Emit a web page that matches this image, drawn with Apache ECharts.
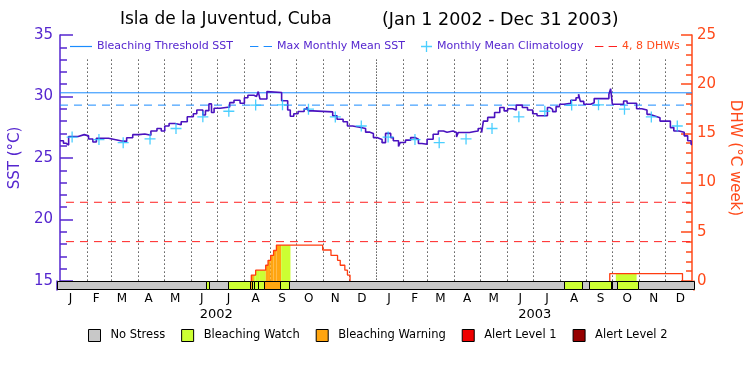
<!DOCTYPE html>
<html><head><meta charset="utf-8">
<script src="https://cdn.jsdelivr.net/npm/echarts@6/dist/echarts.min.js"></script>
<style>html,body{margin:0;padding:0;background:#fff}#c{width:750px;height:375px}</style>
</head><body><div id="c"></div>
<script>
const titleMain = 'Isla de la Juventud, Cuba';
const titleRange = '(Jan 1 2002 - Dec 31 2003)';
const monthLetters = ['J','F','M','A','M','J','J','A','S','O','N','D'];
const years = [2002, 2003];
const yearLabels = ['2002', '2003'];

// SST: day offset from Jan 1 2002, value in °C
const sstDays = [0,4,7,10,21,28,33,38,42,49,56,63,70,77,84,91,98,105,112,117,121,126,133,140,147,154,158,165,168,172,175,178,185,196,201,208,213,217,224,227,229,231,239,241,256,263,266,270,275,282,285,287,292,315,320,327,332,338,346,353,358,362,366,372,376,382,385,391,393,399,405,410,414,418,424,431,437,443,447,454,458,460,473,479,483,487,489,494,502,508,513,517,523,527,534,540,546,551,563,566,569,573,577,582,590,596,599,601,605,613,617,634,636,638,651,655,666,672,678,681,687,693,705,709,715,721,725,729,730];
const sstVals = [26.4,26.2,26.05,26.75,26.9,26.8,26.55,26.3,26.6,26.6,26.5,26.4,26.35,26.65,26.9,26.95,26.85,27.2,27.4,27.2,27.6,27.8,27.7,27.95,28.35,28.6,28.9,28.5,28.85,29.4,28.7,29.05,29.15,29.5,29.7,29.45,29.9,30.1,30.0,29.86,30.4,29.8,30.4,30.32,29.65,28.9,28.4,28.6,28.78,28.97,29.15,28.83,28.75,28.43,28.15,27.95,27.6,27.5,27.4,27.1,27.0,26.66,26.5,26.25,27.0,26.66,26.4,25.93,26.26,26.45,26.66,26.53,26.18,26.12,26.53,26.93,27.2,27.1,27.2,27.07,26.7,27.07,27.15,27.2,27.4,27.07,28.0,28.3,28.7,29.1,28.83,29.0,28.9,29.3,29.1,28.9,28.6,28.43,29.1,28.95,28.77,29.18,29.37,29.45,29.7,29.9,30.18,29.6,29.37,29.5,29.83,30.18,30.64,29.37,29.64,29.45,29.0,28.9,28.55,28.42,28.28,28.0,27.47,27.2,27.1,26.8,26.4,26.1,26.1];
// monthly mean climatology (Jan..Dec)
const climVals = [26.7,26.5,26.25,26.55,27.4,28.35,28.8,29.3,29.32,28.97,28.34,27.6];
const thresholdSST = 30.3;
const mmmSST = 29.3;
const dhwRefLevels = [4, 8];
// DHW steps (value held from day until next day)
const dhwDays = [0,221,226,237.6,240.3,243.3,246.7,250,303.4,313,320.6,323.7,329,332,335,635,719,730];
const dhwVals = [0,0.6,1.1,1.6,2.1,2.6,3.1,3.65,3.15,2.6,2.1,1.6,1.1,0.6,0,0.75,0,0];
// stress level segments
const stressStart = [0,170.8,174.5,196.4,221.2,224,226.3,230.9,237.6,255.5,266.2,581.4,602,610,635,636.5,642,666];
const stressEnd   = [170.8,174.5,196.4,221.2,224,226.3,230.9,237.6,255.5,266.2,581.4,602,610,635,636.5,642,666,730];
const stressLevel = [0,1,0,1,2,1,1,1,2,1,0,1,0,1,0,0,1,0];
const stressNames = ['No Stress','Bleaching Watch','Bleaching Warning','Alert Level 1','Alert Level 2'];
const stressColors = ['#c8c8c8','#ccff33','#ffa510','#ee0000','#960000'];

const FONT = 'DejaVu Sans';
const PURPLE = '#5526cf';
const SSTLINE = '#4a12bf';
const ORANGE = '#ff4a1a';
const BLUE = '#1a8cff';
const CYAN = '#1ec3ff';
const DHWRED = '#ff2020';
const PLUS = 'path://M4.85,0H6.15V4.85H11V6.15H6.15V11H4.85V6.15H0V4.85H4.85Z';
const DASHICON = 'path://M0,0H8V1H0Z M13,0H21V1H13Z';

const t0 = Date.UTC(2002,0,1);
const dayOf = (y,m,d) => (Date.UTC(y,m,d) - t0) / 86400000;
const monthStarts = [];
years.forEach(y => { for (let m=0;m<12;m++) monthStarts.push(dayOf(y,m,1)); });
const totalDays = dayOf(2004,0,1);
const monthMids = monthStarts.map((s,i) => (s + (i+1<monthStarts.length ? monthStarts[i+1] : totalDays)) / 2);
const yearMids = years.map(y => (dayOf(y,0,1) + dayOf(y+1,0,1)) / 2);

const sstData = sstDays.map((d,i) => [d, sstVals[i]]);
const climData = [];
years.forEach(y => climVals.forEach((v,m) => climData.push([dayOf(y,m,15), v])));

// split DHW into separate runs (events with DHW > 0)
const dhwRuns = [];
let run = null;
for (let i=0;i<dhwDays.length;i++){
  const v = dhwVals[i], pv = i>0 ? dhwVals[i-1] : 0;
  if (v>0 && pv===0) { run = [[dhwDays[i], 0]]; dhwRuns.push(run); }
  if (run && (v>0 || pv>0)) run.push([dhwDays[i], v]);
  if (v===0) run = null;
}
const fillPieces = [];
for (let s=0;s<stressStart.length;s++){
  if (stressLevel[s]===0) continue;
  for (let i=0;i<dhwDays.length-1;i++){
    const a = Math.max(stressStart[s], dhwDays[i]), b = Math.min(stressEnd[s], dhwDays[i+1]);
    if (b>a && dhwVals[i]>0) fillPieces.push([a, b, dhwVals[i], stressLevel[s]]);
  }
}

const crisp = v => Math.round(v) + 0.5;

const series = [];
series.push({
  type:'custom', name:'grid', xAxisIndex:0, yAxisIndex:0, silent:true, z:1,
  data: monthStarts.slice(1).map(d => [d]),
  renderItem: (params, api) => {
    const d = api.value(0);
    const p1 = api.coord([d, 33]), p2 = api.coord([d, 15]);
    const isYear = Math.abs(d - 365) < 0.01;
    return {type:'line', shape:{x1:crisp(p1[0]), y1:p1[1], x2:crisp(p1[0]), y2:p2[1]},
      style:{stroke:'#000', lineWidth:1, lineDash: isYear ? [1,2] : [1,3]}};
  }
});
series.push({
  type:'custom', name:'dhwfill', xAxisIndex:0, yAxisIndex:1, silent:true, z:2,
  data: fillPieces,
  renderItem: (params, api) => {
    const p0 = api.coord([api.value(0), api.value(2)]), p1 = api.coord([api.value(1), 0]);
    return {type:'rect', shape:{x:p0[0], y:p0[1], width:p1[0]-p0[0], height:p1[1]-p0[1]},
      style:{fill: stressColors[api.value(3)]}};
  }
});
series.push({type:'line', name:'Bleaching Threshold SST', xAxisIndex:0, yAxisIndex:0, symbol:'none', z:3,
  data:[[0, thresholdSST],[totalDays, thresholdSST]], lineStyle:{color:BLUE, width:1}, itemStyle:{color:BLUE}});
series.push({type:'line', name:'Max Monthly Mean SST', xAxisIndex:0, yAxisIndex:0, symbol:'none', z:3,
  data:[[0, mmmSST],[totalDays, mmmSST]], lineStyle:{color:BLUE, width:1, type:[8,6]}, itemStyle:{color:BLUE}});
dhwRefLevels.forEach(l => series.push({type:'line', name:'4, 8 DHWs', xAxisIndex:0, yAxisIndex:1, symbol:'none', z:3,
  data:[[0,l],[totalDays,l]], lineStyle:{color:DHWRED, width:1, type:[8,6], dashOffset:-6}, itemStyle:{color:DHWRED}}));
series.push({type:'line', name:'SST', xAxisIndex:0, yAxisIndex:0, symbol:'none', step:'end', z:5,
  data:sstData, lineStyle:{color:SSTLINE, width:1.6}});
series.push({type:'scatter', name:'Monthly Mean Climatology', xAxisIndex:0, yAxisIndex:0, z:6,
  symbol:PLUS, symbolSize:11, data:climData, itemStyle:{color:CYAN}});
dhwRuns.forEach(r => series.push({type:'line', name:'DHW', xAxisIndex:0, yAxisIndex:1, symbol:'none', step:'end', z:4,
  data:r, lineStyle:{color:'#ff3c10', width:1.3}}));
stressNames.forEach((nm, lvl) => {
  const segs = [];
  stressStart.forEach((s,i) => { if (stressLevel[i]===lvl) segs.push([s, stressEnd[i]]); });
  series.push({
    type:'custom', name:nm, xAxisIndex:1, yAxisIndex:2, z: lvl===0 ? 7 : 8,
    itemStyle:{color:stressColors[lvl]}, data:segs,
    renderItem: (params, api) => {
      const p0 = api.coord([api.value(0), 1]), p1 = api.coord([api.value(1), 0]);
      const x0 = crisp(p0[0]), x1 = crisp(p1[0]), y0 = crisp(p0[1]), y1 = crisp(p1[1]) - 1;
      return {type:'rect', shape:{x:x0, y:y0, width:x1-x0, height:y1-y0},
        style:{fill:stressColors[lvl], stroke:'#000', lineWidth:1}};
    }
  });
});
series.push({
  type:'custom', name:'months', xAxisIndex:1, yAxisIndex:2, silent:true,
  data: monthMids.map((d,i) => [d, i]),
  renderItem: (params, api) => {
    const p = api.coord([api.value(0), 0]);
    return {type:'text', x:p[0], y:p[1]+9, style:{text: monthLetters[api.value(1)%12], fill:'#000',
      fontSize:12, fontFamily:FONT, align:'center', verticalAlign:'middle'}};
  }
});
series.push({
  type:'custom', name:'years', xAxisIndex:1, yAxisIndex:2, silent:true,
  data: yearMids.map((d,i) => [d, i]),
  renderItem: (params, api) => {
    const p = api.coord([api.value(0), 0]);
    return {type:'text', x:p[0], y:p[1]+25, style:{text: yearLabels[api.value(1)], fill:'#000',
      fontSize:13, fontFamily:FONT, align:'center', verticalAlign:'middle'}};
  }
});

const topLegend = (name, left, icon, w, h, color, textColor) => ({
  left:left, top:41, padding:0, itemWidth:w, itemHeight:h, icon:icon,
  itemStyle:{color:color},
  textStyle:{fontSize:11, color:textColor, fontFamily:FONT},
  data:[name]
});

const option = {
  animation:false,
  backgroundColor:'#fff',
  textStyle:{fontFamily:FONT},
  title:[
    {text:titleMain, left:120, top:11, padding:0, textStyle:{fontSize:17, fontWeight:'normal', color:'#000', fontFamily:FONT}},
    {text:titleRange, left:382, top:11, padding:0, textStyle:{fontSize:17.5, fontWeight:'normal', color:'#000', fontFamily:FONT}}
  ],
  legend:[
    topLegend('Bleaching Threshold SST', 70, 'rect', 22, 1.2, BLUE, PURPLE),
    topLegend('Max Monthly Mean SST', 250, DASHICON, 22, 1.2, BLUE, PURPLE),
    topLegend('Monthly Mean Climatology', 421, PLUS, 11, 11, CYAN, PURPLE),
    topLegend('4, 8 DHWs', 595, DASHICON, 22, 1.2, DHWRED, ORANGE),
    {left:88, top:329, padding:0, itemWidth:12, itemHeight:12, itemGap:16, icon:'rect',
     itemStyle:{borderColor:'#000', borderWidth:1},
     textStyle:{fontSize:11.5, color:'#000', fontFamily:FONT, padding:[0,0,0,5]},
     data: stressNames}
  ],
  grid:[
    {left:57, top:35, width:637, height:246},
    {left:57, top:281, width:637, height:9}
  ],
  xAxis:[
    {type:'value', gridIndex:0, min:0, max:totalDays, position:'top',
     axisLine:{show:true, lineStyle:{color:'#000', width:1}}, axisTick:{show:false}, axisLabel:{show:false}, splitLine:{show:false}},
    {type:'value', gridIndex:1, min:0, max:totalDays,
     axisLine:{show:false}, axisTick:{show:false}, axisLabel:{show:false}, splitLine:{show:false}}
  ],
  yAxis:[
    {type:'value', gridIndex:0, min:15, max:35, interval:5, position:'left',
     name:'SST (°C)', nameLocation:'middle', nameGap:31,
     nameTextStyle:{fontSize:15, color:PURPLE, fontFamily:FONT},
     axisLine:{show:true, lineStyle:{color:PURPLE, width:1.5}},
     axisTick:{show:true, inside:true, length:13, lineStyle:{color:PURPLE, width:1.5}},
     minorTick:{show:true, splitNumber:5, length:7, lineStyle:{color:PURPLE, width:1.5}},
     axisLabel:{fontSize:15, color:PURPLE, margin:7, fontFamily:FONT},
     splitLine:{show:false}},
    {type:'value', gridIndex:0, min:0, max:25, interval:5, position:'right',
     name:'DHW (°C week)', nameLocation:'middle', nameGap:30, nameRotate:-90,
     nameTextStyle:{fontSize:15, color:ORANGE, fontFamily:FONT},
     axisLine:{show:true, lineStyle:{color:ORANGE, width:1.5}},
     axisTick:{show:true, inside:true, length:11, lineStyle:{color:ORANGE, width:1.5}},
     minorTick:{show:true, splitNumber:5, length:6, lineStyle:{color:ORANGE, width:1.5}},
     axisLabel:{fontSize:15, color:ORANGE, margin:5, fontFamily:FONT},
     splitLine:{show:false}},
    {type:'value', gridIndex:1, min:0, max:1, position:'left',
     axisLine:{show:true, lineStyle:{color:PURPLE, width:1.5}}, axisTick:{show:false}, axisLabel:{show:false}, splitLine:{show:false}},
    {type:'value', gridIndex:1, min:0, max:1, position:'right',
     axisLine:{show:true, lineStyle:{color:ORANGE, width:1.5}}, axisTick:{show:false}, axisLabel:{show:false}, splitLine:{show:false}}
  ],
  series: series
};
const chart = echarts.init(document.getElementById('c'), null, {renderer:'canvas'});
chart.setOption(option);
</script></body></html>
